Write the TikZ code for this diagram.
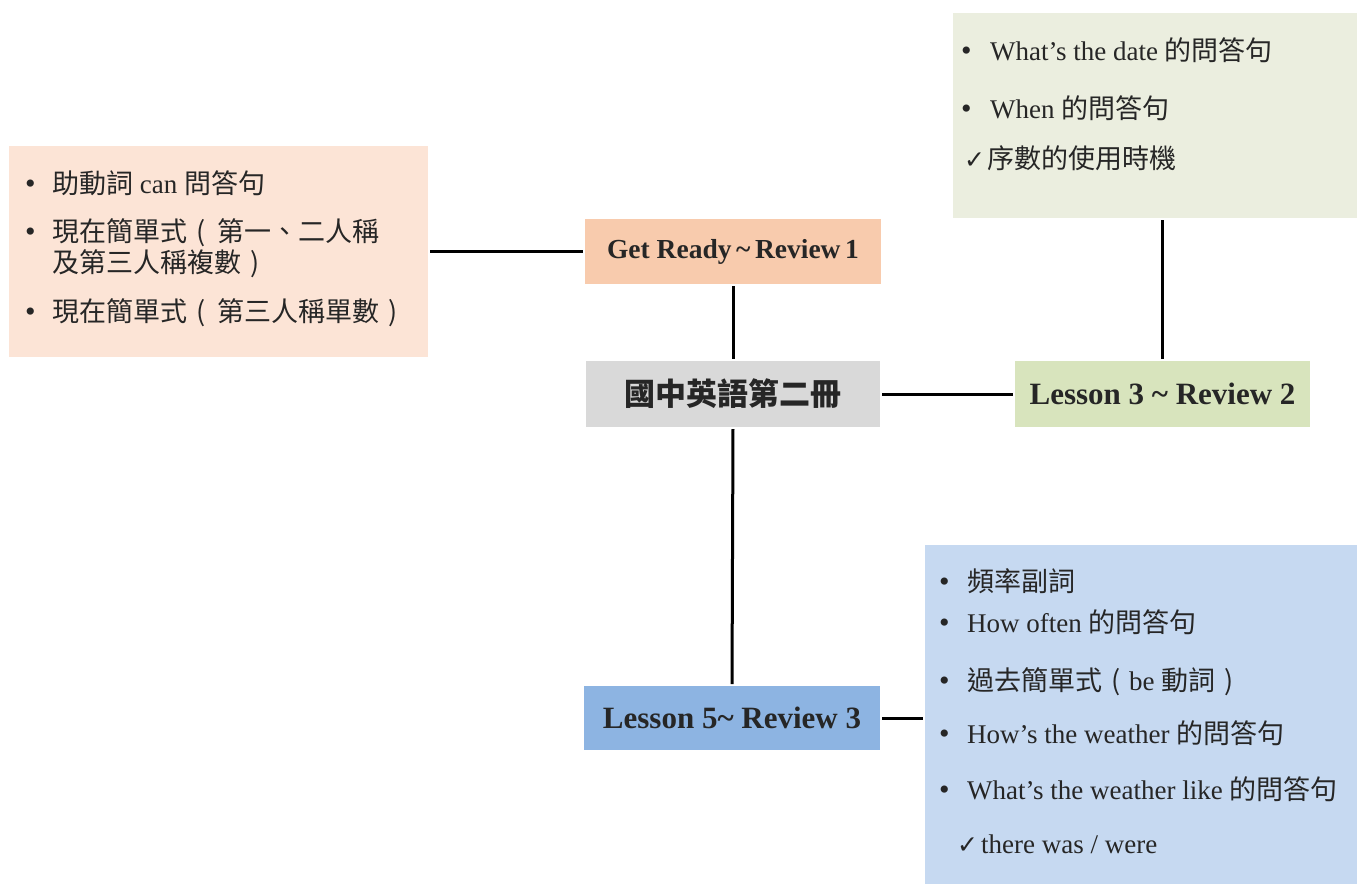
\documentclass[tikz,border=0pt]{standalone}
\usepackage{fontspec}
\setmainfont{Liberation Serif}
\newfontfamily\cjk{Noto Sans CJK TC}
\newfontfamily\symf{DejaVu Sans}
\newcommand\zh[1]{{\cjk #1}}
\newcommand\bul{{\fontsize{30}{30}\selectfont\textbullet}}
\newcommand\chk{{\symf\fontsize{25}{26}\selectfont\char"2713}}
\newcommand\lpar{{\cjk\makebox[1em][c]{(}}}
\newcommand\rpar{{\cjk\makebox[1em][c]{)}}}
\definecolor{peachL}{HTML}{FCE4D6}
\definecolor{peachD}{HTML}{F8CBAD}
\definecolor{grayC}{HTML}{D9D9D9}
\definecolor{greenL}{HTML}{EBEEDF}
\definecolor{greenD}{HTML}{D8E4BD}
\definecolor{blueD}{HTML}{8DB4E2}
\definecolor{blueL}{HTML}{C6D9F1}
\definecolor{txt}{HTML}{262626}
\begin{document}
\begin{tikzpicture}[x=1pt,y=-1pt,
  box/.style={rectangle,inner sep=0pt,outer sep=0pt,anchor=north west},
  item/.style={anchor=base west,inner sep=0pt,font=\fontsize{27}{30}\selectfont,text=txt},
  bullet/.style={anchor=base west,inner sep=0pt,text=txt},
  title/.style={font=\bfseries\fontsize{31}{34}\selectfont,text=txt},
  conn/.style={line width=3pt,black,shorten >=2pt,shorten <=2pt}]
\useasboundingbox (0,0) rectangle (1357,884);
\fill[white] (0,0) rectangle (1357,884);
% boxes
\node[box,fill=peachL,minimum width=419pt,minimum height=211pt] (left) at (9,146) {};
\node[box,fill=peachD,minimum width=296pt,minimum height=65pt] (gr) at (585,219) {};
\node[box,fill=grayC,minimum width=294pt,minimum height=66pt] (center) at (586,361) {};
\node[box,fill=greenL,minimum width=404pt,minimum height=205pt] (green) at (953,13) {};
\node[box,fill=greenD,minimum width=295pt,minimum height=66pt] (l3) at (1015,361) {};
\node[box,fill=blueD,minimum width=296pt,minimum height=64pt] (l5) at (584,686) {};
\node[box,fill=blueL,minimum width=432pt,minimum height=339pt] (blue) at (925,545) {};
% titles
\node[title,font=\bfseries\fontsize{27.5}{30}\selectfont] (grt) at (gr.center) {Get Ready\,\textasciitilde\,Review\,1};
\node[text=txt,font=\cjk\bfseries\fontsize{31}{34}\selectfont] (ct) at (center.center) {國中英語第二冊};
\node[title] (l3t) at (l3.center) {Lesson 3 \textasciitilde\ Review 2};
\node[title] (l5t) at (l5.center) {Lesson 5\textasciitilde\ Review 3};
% connectors
\draw[conn] (left.east) -- (gr.west);
\draw[conn] (gr.south) -- (center.north);
\draw[conn] (center.east) -- (l3.west);
\draw[conn] (l3.north) -- (l3.north |- green.south);
\draw[conn] (center.south) -- (l5.north);
\draw[conn] (l5.east) -- (blue.west |- l5.east);
% left items
\node[bullet] (lb1) at (25,193) {\bul};
\node[item] (li1) at (52,193) {\zh{助動詞} can \zh{問答句}};
\node[bullet] (lb2) at (25,241) {\bul};
\node[item] (li2) at (52,241) {\zh{現在簡單式\lpar\hspace{3pt}第一、二人稱}};
\node[item] (li2b) at (52,272) {\zh{及第三人稱複數\rpar}};
\node[bullet] (lb3) at (25,321) {\bul};
\node[item] (li3) at (52,321) {\zh{現在簡單式\lpar\hspace{3pt}第三人稱單數\rpar}};
% top right items
\node[bullet] (gb1) at (961,60) {\bul};
\node[item] (gi1) at (990,60) {What’s the date \zh{的問答句}};
\node[bullet] (gb2) at (961,118) {\bul};
\node[item] (gi2) at (990,118) {When \zh{的問答句}};
\node[item] (gi3) at (964,168) {\chk\hspace{2pt}\zh{序數的使用時機}};
% bottom right items
\node[bullet] (bb1) at (939,591) {\bul};
\node[item] (bi1) at (967,591) {\zh{頻率副詞}};
\node[bullet] (bb2) at (939,632) {\bul};
\node[item] (bi2) at (967,632) {How often \zh{的問答句}};
\node[bullet] (bb3) at (939,690) {\bul};
\node[item] (bi3) at (967,690) {\zh{過去簡單式\lpar}be \zh{動詞\rpar}};
\node[bullet] (bb4) at (939,743) {\bul};
\node[item] (bi4) at (967,743) {How’s the weather \zh{的問答句}};
\node[bullet] (bb5) at (939,799) {\bul};
\node[item] (bi5) at (967,799) {What’s the weather like \zh{的問答句}};
\node[item] (bi6) at (957,853) {\chk\hspace{3pt}there was / were};
\end{tikzpicture}
\end{document}
